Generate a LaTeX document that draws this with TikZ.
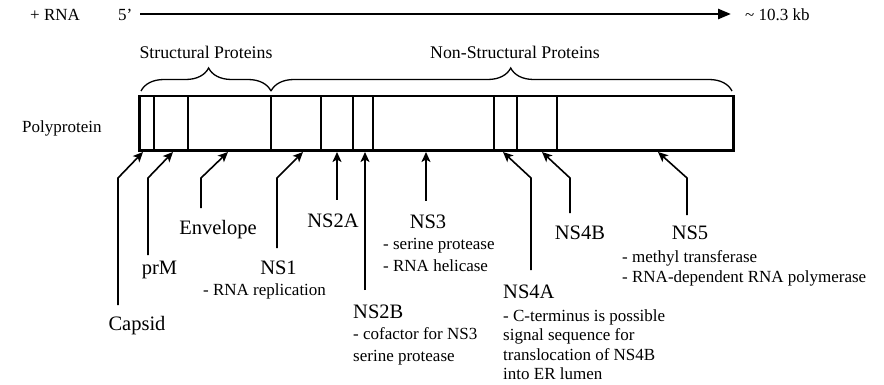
\documentclass[tikz,border=0pt]{standalone}
\usepackage{fontspec}
\setmainfont{Liberation Serif}
\usetikzlibrary{arrows.meta,decorations.pathreplacing}
\begin{document}
\begin{tikzpicture}[x=1pt,y=-1pt,
  smalltxt/.style={font=\fontsize{17}{20}\selectfont, inner sep=0pt, anchor=base west},
  headtxt/.style={font=\fontsize{17.8}{21}\selectfont, inner sep=0pt, anchor=base},
  bigtxt/.style={font=\fontsize{20.5}{24}\selectfont, inner sep=0pt, anchor=base},
  conn/.style={line width=1.6pt, -{Stealth[length=10pt,width=9pt,inset=2.5pt]}},
  divider/.style={line width=1.2pt},
  bracestyle/.style={line width=1.3pt, decorate, decoration={brace, amplitude=23pt, aspect=0.52}}]
\useasboundingbox (0,0) rectangle (884,385);

% RNA line
\node[smalltxt] (rna) at (30,21) {+ RNA};
\node[smalltxt] (five) at (118,21) {5’};
\node[smalltxt] (kb) at (745,21) {\char`\~\ 10.3 kb};
\coordinate (rnaS) at (140,14);
\coordinate (rnaE) at (731,14);
\draw[line width=2.6pt, -{Triangle[length=13pt,width=10pt]}] (rnaS) -- (rnaE);

% braces
\coordinate (b1) at (141,91);
\coordinate (b2) at (271,91);
\coordinate (b3) at (732,91);
\draw[bracestyle] (b1) -- (b2);
\draw[bracestyle] (b2) -- (b3);
\node[headtxt] (sp) at (206,59) {Structural Proteins};
\node[headtxt] (nsp) at (515,59) {Non-Structural Proteins};

% polyprotein
\node[smalltxt] (polylab) at (22,132.5) {Polyprotein};
\node[draw, line width=2.8pt, anchor=north west, minimum width=594pt, minimum height=54.5pt, inner sep=0pt, outer sep=0pt] (poly) at (139.5,96) {};
\foreach \xx in {154,188,271,321,353,373,494,517,557}
  \draw[divider] (poly.north -| \xx,0) -- (poly.south -| \xx,0);

% labels
\node[bigtxt] (capsid) at (137,330) {Capsid};
\node[bigtxt] (prm) at (159.5,274) {prM};
\node[bigtxt] (env) at (218,234) {Envelope};
\node[bigtxt] (ns1) at (278.5,274) {NS1};
\node[smalltxt] (ns1a) at (203,295.5) {- RNA replication};
\node[bigtxt] (ns2a) at (333,227) {NS2A};
\node[bigtxt, anchor=base west] (ns2b) at (353,318) {NS2B};
\node[smalltxt] (ns2ba) at (353,339.5) {- cofactor for NS3};
\node[smalltxt] (ns2bb) at (353,361.5) {serine protease};
\node[bigtxt] (ns3) at (428,228) {NS3};
\node[smalltxt] (ns3a) at (383,249.5) {- serine protease};
\node[smalltxt] (ns3b) at (383,271.5) {- RNA helicase};
\node[bigtxt, anchor=base west] (ns4a) at (503,298) {NS4A};
\node[smalltxt] (ns4aa) at (503,321.5) {- C-terminus is possible};
\node[smalltxt] (ns4ab) at (503,340.5) {signal sequence for};
\node[smalltxt] (ns4ac) at (503,360.5) {translocation of NS4B};
\node[smalltxt] (ns4ad) at (503,379.5) {into ER lumen};
\node[bigtxt] (ns4b) at (580,239) {NS4B};
\node[bigtxt] (ns5) at (690,240) {NS5};
\node[smalltxt] (ns5a) at (622,262.5) {- methyl transferase};
\node[smalltxt] (ns5b) at (622,282.5) {- RNA-dependent RNA polymerase};

% connector ends
\coordinate (eCap) at (118,305);  \coordinate (tCap) at (143,152);
\coordinate (ePrm) at (148,255);  \coordinate (tPrm) at (173,152);
\coordinate (eEnv) at (201,208);  \coordinate (tEnv) at (228,152);
\coordinate (eNs1) at (277,248);  \coordinate (tNs1) at (303,152);
\coordinate (eN2a) at (337,200);  \coordinate (tN2a) at (337,152);
\coordinate (eN2b) at (365,290);  \coordinate (tN2b) at (365,152);
\coordinate (eNs3) at (426,201);  \coordinate (tNs3) at (426,152);
\coordinate (eN4a) at (531,270);  \coordinate (tN4a) at (503,152);
\coordinate (eN4b) at (570,213);  \coordinate (tN4b) at (542,152);
\coordinate (eNs5) at (687,215);  \coordinate (tNs5) at (658,152);

\foreach \e/\t in {eCap/tCap,ePrm/tPrm,eEnv/tEnv,eNs1/tNs1,eN4a/tN4a,eN4b/tN4b,eNs5/tNs5}
  \draw[conn] (\e) -- (\e |- 0,178) -- (\t);
\foreach \e/\t in {eN2a/tN2a,eN2b/tN2b,eNs3/tNs3}
  \draw[conn] (\e) -- (\t);
\end{tikzpicture}
\end{document}
